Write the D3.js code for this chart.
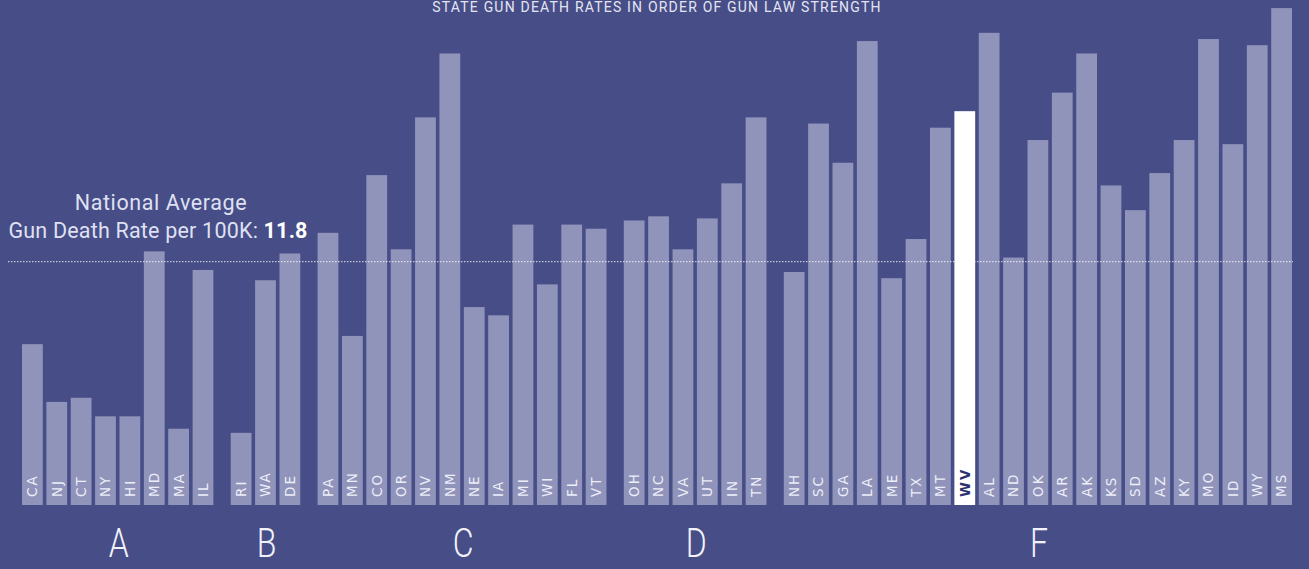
<!DOCTYPE html>
<html>
<head>
<meta charset="utf-8">
<script src="https://cdn.jsdelivr.net/npm/d3@7"></script>
<style>
  html, body { margin: 0; padding: 0; background: #474d87; overflow: hidden; }
  svg { display: block; }
</style>
</head>
<body>
<svg id="chart" width="1309" height="569"></svg>
<script>
// ---- data ----
const grades = ["A", "B", "C", "D", "F"];
const statesA = ["CA", "NJ", "CT", "NY", "HI", "MD", "MA", "IL"];
const ratesA  = [7.8, 5.0, 5.2, 4.3, 4.3, 12.3, 3.7, 11.4];
const statesB = ["RI", "WA", "DE"];
const ratesB  = [3.5, 10.9, 12.2];
const statesC = ["PA", "MN", "CO", "OR", "NV", "NM", "NE", "IA", "MI", "WI", "FL", "VT"];
const ratesC  = [13.2, 8.2, 16.0, 12.4, 18.8, 21.9, 9.6, 9.2, 13.6, 10.7, 13.6, 13.4];
const statesD = ["OH", "NC", "VA", "UT", "IN", "TN"];
const ratesD  = [13.8, 14.0, 12.4, 13.9, 15.6, 18.8];
const statesF = ["NH", "SC", "GA", "LA", "ME", "TX", "MT", "WV", "AL", "ND", "OK", "AR", "AK", "KS", "SD", "AZ", "KY", "MO", "ID", "WY", "MS"];
const ratesF  = [11.3, 18.5, 16.6, 22.5, 11.0, 12.9, 18.3, 19.1, 22.9, 12.0, 17.7, 20.0, 21.9, 15.5, 14.3, 16.1, 17.7, 22.6, 17.5, 22.3, 24.1];
const nationalAverage = 11.8;
const highlightState = "WV";
const titleText = "STATE GUN DEATH RATES IN ORDER OF GUN LAW STRENGTH";

const groupStates = [statesA, statesB, statesC, statesD, statesF];
const groupRates  = [ratesA, ratesB, ratesC, ratesD, ratesF];

// build rows
const rows = [];
let idx = 0;
groupStates.forEach((sts, g) => {
  sts.forEach((s, j) => {
    rows.push({ state: s, rate: groupRates[g][j], group: g, i: idx });
    idx++;
  });
});

// ---- layout ----
const W = 1309, H = 569;
const groupGap = 0.564;   // extra gap between grade groups (in bar-pitch units)
const barFrac = 0.853;    // bar width as fraction of pitch
const pos = d => d.i + d.group * groupGap;
const pMax = (rows.length - 1) + (grades.length - 1) * groupGap + barFrac;

const x = d3.scaleLinear().domain([0, pMax]).range([22, 1292]);
const bw = x(barFrac) - x(0);
const y = d3.scaleLinear().domain([0, nationalAverage]).range([505, 261.7]);

const svg = d3.select("#chart");
svg.append("rect").attr("width", W).attr("height", H).attr("fill", "#474d87");

// title
svg.append("text")
  .attr("x", 657).attr("y", 12)
  .attr("text-anchor", "middle")
  .attr("font-family", "Roboto, 'Liberation Sans', sans-serif")
  .attr("font-size", 14)
  .attr("letter-spacing", "1.2px")
  .attr("fill", "#e4e5f3")
  .text(titleText);

// bars
svg.append("g").selectAll("rect")
  .data(rows).join("rect")
  .attr("x", d => x(pos(d)))
  .attr("width", bw)
  .attr("y", d => y(d.rate))
  .attr("height", d => y(0) - y(d.rate))
  .attr("fill", d => d.state === highlightState ? "#ffffff" : "#9094bb");

// state labels (vertical)
svg.append("g").selectAll("text")
  .data(rows).join("text")
  .attr("transform", d => `translate(${x(pos(d)) + bw / 2},497) rotate(-90)`)
  .attr("dy", "0.36em")
  .attr("text-anchor", "start")
  .attr("font-family", "'DejaVu Sans', sans-serif")
  .attr("font-size", 13.5)
  .attr("letter-spacing", "2px")
  .attr("font-weight", d => d.state === highlightState ? "bold" : "normal")
  .attr("fill", d => d.state === highlightState ? "#2d3270" : "#eceef8")
  .text(d => d.state);

// national average dotted line (drawn over bars)
svg.append("line")
  .attr("x1", 8).attr("x2", 1293)
  .attr("y1", y(nationalAverage)).attr("y2", y(nationalAverage))
  .attr("stroke", "#ffffff")
  .attr("stroke-opacity", 0.85)
  .attr("stroke-width", 1)
  .attr("stroke-dasharray", "1.5,1.5");

// annotation
const ann = svg.append("g")
  .attr("font-family", "Roboto, 'Liberation Sans', sans-serif")
  .attr("fill", "#dfe1f3")
  .attr("text-anchor", "middle");
ann.append("text").attr("x", 161).attr("y", 210).attr("font-size", 21.5)
  .attr("letter-spacing", "0.6px")
  .text("National Average");
const t2 = ann.append("text").attr("x", 158).attr("y", 238).attr("font-size", 21.5)
  .attr("letter-spacing", "0.2px");
t2.append("tspan").text("Gun Death Rate per 100K: ");
t2.append("tspan").attr("font-weight", "bold").attr("fill", "#ffffff").text(String(nationalAverage));

// grade letters centered under each group
const groupsExtent = grades.map((g, gi) => {
  const r = rows.filter(d => d.group === gi);
  const x0 = x(pos(r[0]));
  const x1 = x(pos(r[r.length - 1])) + bw;
  return { grade: g, cx: (x0 + x1) / 2 };
});
svg.append("g").selectAll("text")
  .data(groupsExtent).join("text")
  .attr("x", 0)
  .attr("y", 0)
  .attr("text-anchor", "middle")
  .attr("font-family", "Roboto, sans-serif")
  .attr("font-weight", 300)
  .attr("font-size", 40)
  .attr("fill", "#f2f3fa")
  .attr("transform", d => `translate(${d.cx + 1},557) scale(0.8,1)`)
  .text(d => d.grade);
</script>
</body>
</html>
